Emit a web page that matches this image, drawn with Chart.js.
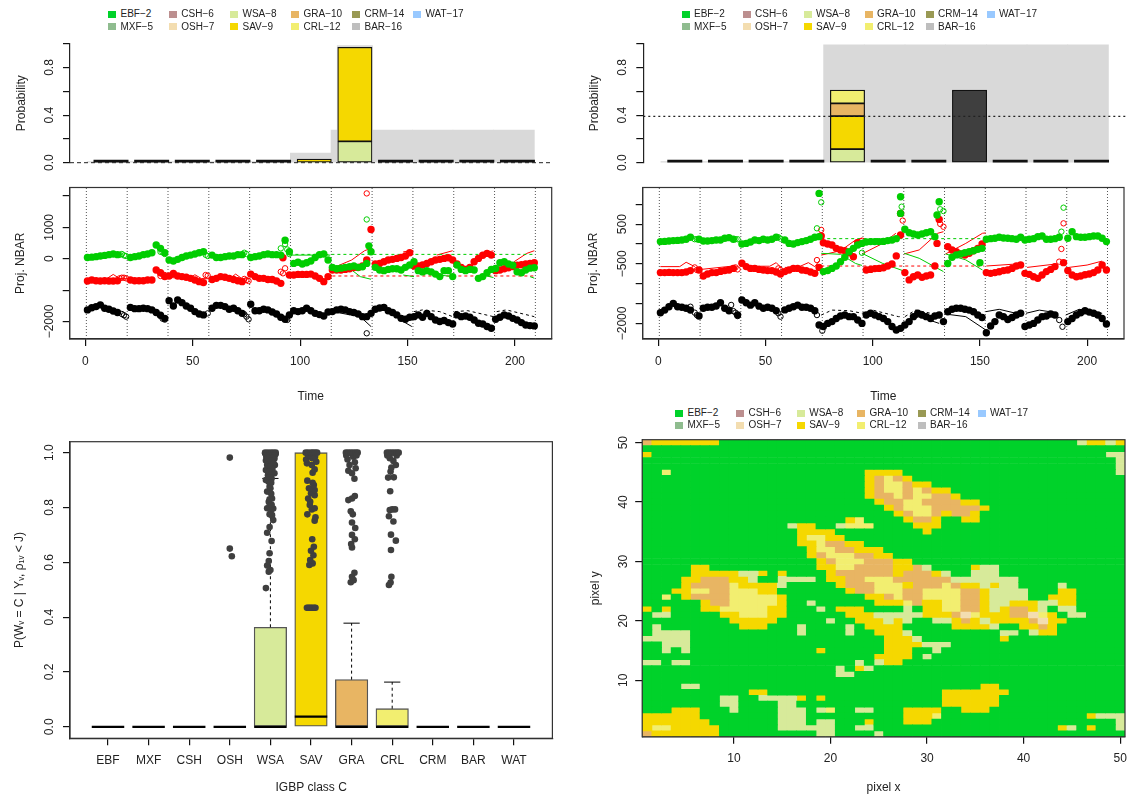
<!DOCTYPE html>
<html lang="en">
<head>
<meta charset="UTF-8">
<title>Land cover change posterior</title>
<script src="https://cdn.jsdelivr.net/npm/chart.js"></script>
<style>
  html, body { margin: 0; padding: 0; background: #fff; }
  #page { position: relative; width: 1129px; height: 797px; overflow: hidden; font-family: "Liberation Sans", Arial, sans-serif; }
  canvas { position: absolute; }
  .key { position: absolute; font-size: 10px; color: #222; line-height: 12px; white-space: nowrap; }
  .key i { position: absolute; left: -12.5px; top: 2.5px; width: 8px; height: 7px; }
</style>
</head>
<body>
<div id="page"></div>
<script>
// class legend
const legendLabels = ['EBF−2','MXF−5','CSH−6','OSH−7','WSA−8','SAV−9','GRA−10','CRL−12','CRM−14','BAR−16','WAT−17'];
const legendColors = ['#00D22A','#8FBC8F','#BC8F8F','#F3DDB0','#D7EA9A','#F5D800','#E8B563','#F2EE70','#999954','#BEBEBE','#99C9FF'];
const classShort = ['EBF','MXF','CSH','OSH','WSA','SAV','GRA','CRL','CRM','BAR','WAT'];

// top panels: posterior stacks, one value per class column
const columns = [1,2,3,4,5,6,7,8,9,10,11];
const leftGray  = [0,0,0,0,0,0.08,0.275,0.275,0.275,0.275,0.275];
const leftWsa   = [0,0,0,0,0,0.004,0.18,0,0,0,0];
const leftSav   = [0,0,0,0,0,0.026,0.79,0,0,0,0];
const rightGray = [0,0,0,0,0.99,0.99,0.99,0.99,0.99,0.99,0.99];
const rightWsa  = [0,0,0,0,0.115,0,0,0,0,0,0];
const rightSav  = [0,0,0,0,0.277,0,0,0,0,0,0];
const rightGra  = [0,0,0,0,0.106,0,0,0,0,0,0];
const rightCrl  = [0,0,0,0,0.112,0,0,0,0,0,0];
const rightBar  = [0,0,0,0,0,0,0,0.61,0,0,0];
const probTicks = [0,0.2,0.4,0.6,0.8,1];
const probLabels = ['0.0','','0.4','','0.8',''];

// middle panels
const changeTimes = [0.5,19.5,38.5,57.5,76.5,95.5,114.5,133.5,152.5,171.5,190.5,209.5];
const timeTicks = [0,50,100,150,200];
const timeLabels = ['0','50','100','150','200'];
const leftYTicks = [-2000,-1000,0,1000,2000];
const leftYLabels = ['−2000','','0','1000',''];
const rightYTicks = [-2000,-1500,-1000,-500,0,500,1000];
const rightYLabels = ['−2000','','','−500','','500',''];
const timeSteps = [1,3,5,7,9,11,13,15,17,19,
  21,23,25,27,29,31,33,35,37,39,
  41,43,45,47,49,51,53,55,57,59,
  61,63,65,67,69,71,73,75,77,79,
  81,83,85,87,89,91,93,95,97,99,
  101,103,105,107,109,111,113,115,117,119,
  121,123,125,127,129,131,133,135,137,139,
  141,143,145,147,149,151,153,155,157,159,
  161,163,165,167,169,171,173,175,177,179,
  181,183,185,187,189,191,193,195,197,199,
  201,203,205,207,209];

const leftBlack = [-1630,-1560,-1525,-1470,-1580,-1610,-1665,-1715,null,null,
  -1550,-1590,-1590,-1580,-1590,-1630,-1715,-1800,-1900,-1335,
  -1505,-1315,-1400,-1505,-1580,-1685,-1760,-1790,null,-1580,
  -1485,-1485,-1525,-1610,-1580,-1655,-1740,null,-1450,-1655,
  -1655,-1610,-1630,-1695,-1760,-1865,-1930,-1790,-1655,-1685,
  -1655,-1580,-1655,-1740,-1780,-1825,-1695,-1685,-1630,-1610,
  -1630,-1685,-1715,-1760,-1845,-1845,-1740,-1610,-1570,-1550,
  -1655,-1715,-1790,-1900,-1930,-1865,-1845,-1790,-1865,-1740,
  -1845,-1950,-2000,-1970,-2035,-2080,-1790,-1845,-1825,-1865,
  -1950,-2055,-2080,-2160,-2215,-1930,-1865,-1790,-1825,-1900,
  -1950,-2035,-2110,-2130,-2140];
const leftRed = [-710,-680,-700,-710,-700,-710,-710,-700,null,null,
  -680,-700,-700,-700,-680,-680,-360,-445,-570,-550,
  -470,-550,-570,-590,-625,-680,-730,-760,null,-660,
  -625,-570,-590,-625,-660,-700,-730,null,-490,-570,
  -625,-625,-660,-660,-710,-785,null,-520,-520,-500,
  -500,-500,-490,-550,-625,-730,-570,-360,-360,-360,
  -340,-320,-280,-280,-230,-40,930,-170,-150,-95,
  -40,-20,10,40,85,190,-230,-230,-200,-150,
  -95,-40,-20,10,30,-40,-170,-280,-340,-280,
  -95,10,110,170,115,-380,-360,-320,-290,-250,
  -210,-190,-170,-150,-130];
const leftGreen = [40,50,65,85,105,130,150,130,null,null,
  40,65,85,130,150,190,435,330,190,-40,
  -75,-20,40,85,115,150,190,220,null,115,
  40,40,65,85,85,130,130,null,40,65,
  85,130,150,130,130,115,590,220,-150,-115,
  -170,-130,-75,40,130,150,-40,-275,-320,-300,
  -275,-255,-230,-275,-255,-150,220,-275,-360,-380,
  -340,-320,-320,-360,-275,-200,-95,-380,-420,-380,
  -420,-490,-570,-380,-380,-570,-200,-340,-380,-340,
  -360,-625,-570,-445,-340,-310,-130,-95,-170,-210,
  -415,-445,-360,-300,-290];
const leftRedSpikeT = [92];
const leftRedSpikeV = [30];
const leftGreenSpikeT = [132];
const leftGreenSpikeV = [410];

const leftBlackOpenT = [17,18,19,36,37,57,74,75,76,94,131];
const leftBlackOpenV = [-1760,-1800,-1845,-1910,-1940,-1740,-1770,-1845,-1930,-1950,-2375];
const leftRedOpenT = [16,17,18,19,35,36,37,56,57,74,75,76,91,92,93,131];
const leftRedOpenV = [-625,-605,-605,-625,-550,-500,-520,-520,-540,-645,-680,-710,-415,-465,-305,2080];
const leftGreenOpenT = [16,17,18,19,35,36,37,56,57,74,75,91,93,94,95,131];
const leftGreenOpenV = [125,150,105,85,220,200,150,125,85,190,150,330,465,295,150,1250];

const leftRedLineT = [1,10,13,16,19,null,21,30,null,38,48,51,54,57,null,59,67,70,73,76,null,79,90,null,115,124,130,133,null,148,152.7,null,163.6,171,null,186,190,null,199.6,205.5,209];
const leftRedLineV = [-635,-635,-500,-635,-635,null,-650,-640,null,-590,-640,-510,-630,-640,null,-640,-640,-490,-640,-640,null,-630,-680,null,-300,-40,255,330,null,220,255,null,115,255,null,200,250,null,-95,170,255];
const leftGreenLineT = [95,114,null,114,124,128,133,null,148,153,null,165,171,null,185,190,null,207,209];
const leftGreenLineV = [115,115,null,-230,-360,-570,-655,null,-520,-570,null,-520,-570,null,-520,-600,null,-570,-620];
const leftBlackLineT = [115,128,133,null,148,152];
const leftBlackLineV = [-1685,-1845,-2160,null,-2000,-2160];
const leftBlackDashT = [153,157,165,171,null,172,178,190,null,191.5,196,209];
const leftBlackDashV = [-1685,-1630,-1685,-1845,null,-1685,-1655,-1845,null,-1685,-1630,-1845];
const leftRedDashT = [115,209];
const leftRedDashV = [-550,-550];
const leftGreenDashT = [95,209];
const leftGreenDashV = [138,138];

const rightBlack = [-1730,-1665,-1580,-1495,-1580,-1595,-1620,-1665,null,-1815,
  -1620,-1595,-1595,-1560,-1480,-1620,-1680,null,-1790,-1410,
  -1480,-1540,-1480,-1565,-1620,-1595,-1620,-1680,null,-1660,
  -1620,-1580,-1540,-1595,-1595,-1620,-1680,-2040,-2080,-2000,
  -1955,-1875,-1815,-1790,-1830,-1830,-1915,-2000,-1790,-1745,
  -1790,-1830,-1875,-1955,-2080,-2165,-2125,-2040,-1955,-1830,
  -1745,-1790,-1830,-1875,-1815,-1790,-1955,-1705,-1645,-1620,
  -1620,-1645,-1665,-1705,-1790,-1850,-2235,-2065,-1955,-1790,
  -1830,-1900,-1850,-1790,-1745,-2080,-2040,-2000,-1915,-1830,
  -1815,-1765,-1790,null,null,-1955,-1875,-1790,-1730,-1680,
  -1715,-1745,-1790,-1875,-2015];
const rightRed = [-720,-720,-715,-720,-720,-720,-705,-670,null,-655,
  -805,-755,-720,-720,-690,-670,-655,-615,null,-485,
  -570,-615,-615,-640,-655,-670,-670,-705,-755,-695,
  -655,-615,-615,-655,-670,-705,-740,-590,30,0,
  -25,-110,-150,-170,-220,-320,35,null,-655,-640,
  -620,-615,-600,-555,-505,-300,225,-720,-905,-825,
  -780,-840,-805,-780,-555,620,null,-65,-150,-195,
  -250,-280,-235,-170,-110,0,-720,-740,-720,-700,
  -670,-655,-615,-555,-530,-740,-765,-825,-865,-780,
  -695,-640,-570,null,-470,-670,-780,-825,-805,-775,
  -755,-720,-655,-530,-655];
const rightGreen = [60,65,75,85,90,100,120,170,null,120,
  75,75,85,100,100,145,160,120,null,0,
  15,50,100,85,120,100,120,170,null,100,
  15,0,35,60,85,120,170,185,-695,-670,
  -615,-555,-445,-335,-195,-110,-25,15,50,60,
  60,60,65,85,100,135,770,370,285,250,
  225,250,285,310,185,1065,null,-490,-335,-275,
  -250,-220,-195,-170,-135,-110,120,135,145,170,
  150,145,135,120,170,100,120,135,185,200,
  120,120,135,170,null,145,310,185,170,170,
  185,200,200,145,60];
const rightRedSpikeT = [76,113,130];
const rightRedSpikeV = [200,770,15];
const rightGreenSpikeT = [75,113,130,150];
const rightGreenSpikeV = [1275,1190,730,-470];

const rightBlackOpenT = [15,17,18,34,35,36,37,56,57,74,76.5,187,188.5];
const rightBlackOpenV = [-1580,-1730,-1790,-1535,-1690,-1730,-1815,-1745,-1830,-1790,-2185,-1915,-2085];
const rightRedOpenT = [17,18,36,37,56,57,74,76,95,114,131.5,133,187,188,189];
const rightRedOpenV = [-590,-655,-590,-640,-615,-655,-405,355,85,590,505,435,-445,-125,520];
const rightGreenOpenT = [17,18,36,37,56,57,74,76,95,113.5,131.5,133,188,189];
const rightGreenOpenV = [120,120,120,120,170,135,395,1050,-220,940,875,830,310,915];

const rightRedLineT = [1,10,13,17,null,20,34,null,38,43,52,55,57,null,59,65,70,73,75,null,76,85,92,95,null,95,104.7,110.8,null,114.7,121.7,130.3,133,null,134,143.4,151.2,152.7,null,153,168,null,172,186,null,190,200,207];
const rightRedLineV = [-570,-570,-460,-570,null,-640,-560,null,-470,-560,-560,-470,-580,null,-590,-590,-470,-570,-430,null,-280,-170,100,140,null,-250,15,270,null,-250,-150,270,310,null,-250,15,270,280,null,-555,-500,null,-590,-500,null,-600,-530,-430];
const rightGreenLineT = [76,85,92,95,null,95,104.7,114,null,114.7,121.7,133,null,134,143.4,151.2];
const rightGreenLineV = [-235,-260,-490,-540,null,-235,-490,-670,null,-235,-360,-695,null,-250,-400,-655];
const rightBlackLineT = [115.5,121.7,131,null,134,143.4,152.7,null,152.7,159,166.8,null,171.5,177.7,185.4,null,190,196.3,207];
const rightBlackLineV = [-1955,-1830,-2000,null,-1765,-1830,-2165,null,-1705,-1645,-1745,null,-1745,-1665,-1730,null,-1790,-1645,-1745];
const rightBlackDashT = [76,81,89,95,null,95,100,112,114,null,115,120,131,133];
const rightBlackDashV = [-1790,-1665,-1680,-1745,null,-1745,-1665,-1830,-1830,null,-1830,-1665,-1790,-1790];
const rightRedDashT = [76,152];
const rightRedDashV = [-555,-555];
const rightGreenDashT = [76,152];
const rightGreenDashV = [135,135];

// box plot
const boxQ3 = [0,0,0,0,0.363,1,0.172,0.066,0,0,0];
const boxMedian = [0,0,0,0,0,0.037,0,0,0,0,0];
const boxWhisker = [0,0,0,0,0.906,1,0.378,0.163,0,0,0];
const boxTicks = [0,0.2,0.4,0.6,0.8,1];
const boxLabels = ['0.0','0.2','0.4','0.6','0.8','1.0'];
const oshOutY = [0.982,0.65,0.622];
const oshOutJ = [0,0,0.05];
const wsaOutY = [0.506,0.566,0.572,0.588,0.605,0.633,0.678,0.708,0.729,0.754,0.772,0.797,0.796,0.805,0.821,0.833,0.858,0.876,0.894,0.9,0.906,0.918,0.925,0.937,0.939,0.955,0.955,0.961,0.971,0.973,0.979,0.985,0.988,0.995,0.998,1,1,1,1,1,0.99,0.99,0.99,0.99,0.98,0.98,0.97,0.96,0.95,0.94,0.93,0.92,0.91,0.89,0.87,0.85,0.83,0.81,0.79,0.775];
const wsaOutJ = [-0.11,-0.04,0,-0.08,-0.04,-0.02,0.03,-0.08,-0.02,0.07,0.04,-0.08,0.07,-0.02,-0.04,0.04,-0.08,-0.02,-0.04,-0.11,0.03,-0.06,0.1,-0.11,0.01,0.11,-0.08,0.03,-0.11,-0.02,0.1,-0.1,0.03,0.13,-0.13,-0.06,0.01,0.07,0.13,-0.13,-0.1,-0.03,0.05,0.1,-0.06,0.06,0.02,0.08,0,0.05,-0.03,0.02,-0.01,0.02,0,0.02,-0.02,0.03,0.01,-0.02];
const savOutY = [0.434,0.434,0.434,0.434,0.434,0.434,0.434,0.59,0.596,0.608,0.626,0.642,0.657,0.684,0.752,0.764,0.775,0.793,0.797,0.809,0.821,0.833,0.845,0.852,0.864,0.87,0.882,0.89,0.898,0.927,0.939,0.955,0.961,0.967,0.975,0.98,0.985,0.99,0.995,1,1,1,1,1,1];
const savOutJ = [-0.1,-0.07,-0.03,0,0.04,0.08,0.11,-0.04,0.04,-0.02,0.06,0,0.07,0.03,0.09,0.11,-0.09,0.02,0.09,-0.03,-0.02,-0.07,0.09,0,0.09,-0.05,0.07,0.04,-0.09,0.04,0.09,0.02,-0.1,0.13,-0.12,0.03,0.1,-0.07,0.05,-0.13,-0.07,0,0.05,0.1,0.15];
const graOutY = [0.527,0.535,0.547,0.562,0.654,0.667,0.684,0.7,0.725,0.745,0.775,0.786,0.827,0.833,0.842,0.905,0.925,0.934,0.943,0.955,0.965,0.975,0.985,0.99,1,1,1,1,1,1,0.99];
const graOutJ = [-0.02,0.05,0.01,0.07,0.01,-0.01,0.08,0.01,0.09,0.01,0.03,-0.02,-0.08,0.01,0.08,0.07,0.01,-0.08,0.1,-0.05,0.08,-0.1,0.04,-0.13,-0.14,-0.08,-0.02,0.04,0.1,0.15,0.12];
const crlOutY = [0.517,0.526,0.547,0.645,0.679,0.701,0.749,0.768,0.791,0.793,0.793,0.859,0.909,0.91,0.931,0.946,0.955,0.97,0.98,0.99,0.99,1,1,1,1,1,1];
const crlOutJ = [-0.08,-0.04,-0.02,-0.03,0.09,-0.03,0.03,-0.08,-0.06,0,0.07,-0.05,-0.1,0.04,-0.04,-0.02,0.09,0.03,-0.06,0.11,-0.12,-0.13,-0.07,-0.01,0.05,0.11,0.16];

// land cover map, top row is y = 50; . EBF, w WSA, s SAV, g GRA, c CRL
const mapCodes = { '.': 0, o: 3, w: 4, s: 5, g: 6, c: 7 };
const mapTicks = [10,20,30,40,50];
const mapLabels = ['10','20','30','40','50'];
const mapRows = [
  'gsssssss.. .......... .......... .......... .....wssws',
  '.......... .......... .......... .......... ..........',
  's......... .......... .......... .......... ........ww',
  '.......... .......... .......... .......... .........w',
  '.......... .......... .......... .......... .........w',
  '..c....... .......... ...ssss... .......... .........w',
  '.......... .......... ...sgcgs.. .......... ..........',
  '.......... .......... ...sgccgss .......... ..........',
  '.......... .......... ...sgccgcg ss........ ..........',
  '.......... .......... ...sggcgcc ggs....... ..........',
  '.......... .......... ....sggccg gggss..... ..........',
  '.......... .......... .....sgccc gggggs.... ..........',
  '.......... .......... ......sgcc gsggs..... ..........',
  '.......... .......... .sc....sgg s..ss..... ..........',
  '.......... .....wss.. wccc....ss s......... ..........',
  '.......... ......ssss .........s .......... ..........',
  '.......... ......sccs s......... .......... ..........',
  '.......... ......sscg gss....... .......... ..........',
  '.......... .......scc ggsss..... .......... ..........',
  '.......... .......sgc ccggss.... .......... ..........',
  '.......... ........sg cccgggss.. .......... ..........',
  '.....ss... ........ss ccggggssgw ....sww... ..........',
  '.....sssss wws.s....s ggggggsggg sw..www... ..........',
  '....ssgggs sw..wwww.s sggcccgggg ggwwwwwww. ..........',
  '....sggggc ssssw..... sgggcccsgg gcgsswsww. ...w......',
  '...ssccggc ccss...... .sggcccggc cccggswwww ...ss.....',
  '..c.sggggc ccccs..... ...ssgcggc cccggswwww ..sss.....',
  '......sggc ccccs..w.. ....ssscgs sccggswwss swwss.....',
  's.s...sscc cccss...w. sss....w.s sccggswsgg sw.ww.....',
  '.ww.....ss cccss..... .ssswwwwws ssgocsssgg ocs.ww....',
  '.........s ssss.....w ..ssswsw.. wwsgswssss goss......',
  '.w........ sss...w... .w.ssss... ..ssssw..s sgs.......',
  '.wwww..... ......w... .w..sssw.. .......ww. wss.......',
  'wwwww..... .......... .....sssw. .......s.. ..........',
  '..www..... .......... .....ssssw ww........ ..........',
  '..w.w..... ........s. .....sss.. w......... ..........',
  '.......... .......... ....ssss.w .......... ..........',
  'ww.ww..... .......... ..w.wss... .......... ..........',
  '.......... .......... w.sw...... .......... ..........',
  '.......... .......... ww........ .......... ..........',
  '.......... .......... .......... .......... ..........',
  '....ww.... .......... .......... .....ss... ..........',
  '.......... .ss....... .......... .sssssss.. ..........',
  '........ww ..wwwws.s. .......... .ssssss... ..........',
  '........ww ....ww.... .......... .ssssss... ..........',
  '...sss...w ....www.wc ..ww...sss s..sss.... ..........',
  'ssssss.... ....www... .......sss c......... ......swww',
  'sssssss... ....www.ww ...s...sss .......... .........w',
  'sccsssss.. ....wwwwww ..ww...... .......... ...sw.s..w',
  'gsssssss.. ........ww ....w..... .......... ..........'
];

Chart.defaults.font.family = '"Liberation Sans", Arial, sans-serif';
Chart.defaults.font.size = 12;
Chart.defaults.color = '#222';
Chart.defaults.animation = false;

const page = document.getElementById('page');

function addCanvas(x, y, w, h) {
  const c = document.createElement('canvas');
  c.width = w; c.height = h;
  c.style.left = x + 'px'; c.style.top = y + 'px';
  page.appendChild(c);
  return c;
}

function addLegend(xs, ys) {
  legendLabels.forEach((label, i) => {
    const d = document.createElement('div');
    d.className = 'key';
    d.style.left = (xs[Math.floor(i / 2)] + 12.5) + 'px';
    d.style.top = (ys[i % 2] - 6) + 'px';
    d.innerHTML = '<i style="background:' + legendColors[i] + '"></i>' + label;
    page.appendChild(d);
  });
}

// R style axis on a linear scale
function axis(o) {
  const vertical = o.position === 'left';
  return {
    type: 'linear', position: o.position, min: o.min, max: o.max, offset: false,
    afterBuildTicks: s => { s.ticks = o.ticks.map(v => ({ value: v })); },
    afterFit: s => {
      if (vertical) s.width = o.size; else s.height = o.size;
      s.paddingLeft = s.paddingRight = s.paddingTop = s.paddingBottom = 0;
    },
    grid: { offset: false, drawOnChartArea: false, drawTicks: true, tickLength: 7, color: '#111', lineWidth: 1.2 },
    border: { display: true, color: '#222', width: 1.2 },
    ticks: {
      autoSkip: false, padding: o.padding, color: '#222', font: { size: 12 },
      callback: (v, i) => o.labels[i],
      minRotation: vertical ? 90 : 0, maxRotation: vertical ? 90 : 0,
      crossAlign: vertical ? 'center' : 'near'
    },
    title: {
      display: true, text: o.title, color: '#222', font: { size: 12 },
      padding: vertical ? { top: o.titleGap, bottom: 0 } : { top: 0, bottom: o.titleGap }
    }
  };
}

const frame = {
  id: 'frame',
  afterDraw(chart) {
    const a = chart.chartArea, ctx = chart.ctx;
    ctx.save();
    ctx.strokeStyle = '#333'; ctx.lineWidth = 1.2;
    ctx.strokeRect(a.left, a.top, a.right - a.left, a.bottom - a.top);
    ctx.restore();
  }
};

function segments(t, v) {
  return t.map((x, i) => ({ x: x === null ? t[i - 1] : x, y: v[i] }));
}
function points(t, v) {
  const out = [];
  t.forEach((x, i) => { if (v[i] !== null) out.push({ x: x, y: v[i] }); });
  return out;
}

// top stacked probability panels
function stackPanel(o) {
  const datasets = [];
  const base = columns.map(() => 0);
  o.stack.forEach(s => {
    datasets.push({
      type: 'bar', grouped: false, barThickness: o.barWidth, order: 5, clip: false,
      backgroundColor: s.color, borderColor: '#111', borderWidth: 1.2, borderSkipped: false,
      data: columns.map((c, i) => ({ x: c, y: [base[i], base[i] + s.values[i]] })).filter(d => d.y[1] > d.y[0])
    });
    s.values.forEach((v, i) => { base[i] += v; });
  });
  datasets.push({
    type: 'bar', grouped: false, barThickness: o.barWidth, order: 4, clip: false,
    backgroundColor: '#111', minBarLength: 2.5,
    data: columns.filter((c, i) => base[i] === 0).map(c => ({ x: c, y: 0 }))
  });
  datasets.push({
    type: 'bar', grouped: false, barThickness: o.barWidth + 6.5, order: 9, clip: false,
    backgroundColor: '#D9D9D9', minBarLength: 1,
    data: columns.map((c, i) => ({ x: c - 0.086, y: o.gray[i] }))
  });
  if (o.topBand) datasets.push({
    type: 'bar', grouped: false, barThickness: o.barWidth + 1, order: 8, clip: false,
    backgroundColor: '#D9D9D9',
    data: [{ x: o.topBand.x, y: o.topBand.y }]
  });
  datasets.push({
    type: 'line', order: 1, clip: false, pointRadius: 0,
    borderColor: '#222', borderWidth: o.refWidth, borderDash: o.refDash,
    data: [{ x: o.xMin, y: o.ref }, { x: o.xMax, y: o.ref }]
  });
  new Chart(addCanvas(o.left, 30, o.width, 150), {
    type: 'bar',
    data: { datasets: datasets },
    options: {
      responsive: false,
      layout: { padding: { top: 13.7, bottom: 17.3, right: o.rightPad, left: 0 } },
      plugins: { legend: { display: false }, tooltip: { enabled: false } },
      scales: {
        x: { type: 'linear', display: false, offset: false, grid: { offset: false }, min: o.xMin, max: o.xMax },
        y: axis({ position: 'left', min: 0, max: 1, ticks: probTicks, labels: probLabels, size: o.axisSize, padding: o.tickPad, title: 'Probability', titleGap: o.titleGap })
      }
    }
  });
}

stackPanel({
  left: 0, width: 565, rightPad: 13, axisSize: 70, titleGap: 14, barWidth: 34.3, tickPad: 4.7,
  xMin: -0.009, xMax: 11.85, gray: leftGray, ref: 0, refDash: [4, 3], refWidth: 1,
  topBand: { x: 7, y: 0.985 },
  stack: [{ color: legendColors[4], values: leftWsa }, { color: legendColors[5], values: leftSav }]
});
stackPanel({
  left: 570, width: 559, rightPad: 3.7, axisSize: 73.3, titleGap: 17, barWidth: 34.3, tickPad: 5.2,
  xMin: -0.02, xMax: 11.83, gray: rightGray, ref: 0.39, refDash: [2, 3], refWidth: 1.2,
  stack: [
    { color: legendColors[4], values: rightWsa }, { color: legendColors[5], values: rightSav },
    { color: legendColors[6], values: rightGra }, { color: legendColors[7], values: rightCrl },
    { color: '#3F3F3F', values: rightBar }
  ]
});

// time series panels
function seriesPanel(o) {
  const dotted = [];
  changeTimes.forEach(t => { dotted.push({ x: t, y: o.yMin }, { x: t, y: o.yMax }, { x: t, y: null }); });
  const line = (t, v, color, dash, order) => ({
    showLine: true, pointRadius: 0, borderColor: color, borderWidth: 1, borderDash: dash || [], order: order,
    data: segments(t, v)
  });
  const filled = (data, color, order) => ({ pointRadius: 3.7, pointBackgroundColor: color, pointBorderWidth: 0, order: order, data: data });
  const open = (data, color, order) => ({ pointRadius: 2.7, pointBackgroundColor: 'rgba(0,0,0,0)', pointBorderColor: color, pointBorderWidth: 1, order: order, data: data });
  new Chart(addCanvas(o.left, 180, o.width, 224), {
    type: 'scatter',
    data: { datasets: [
      { showLine: true, pointRadius: 0, borderColor: '#555', borderWidth: 1, borderDash: [1, 2], order: 20, data: dotted },
      line(o.blackLine[0], o.blackLine[1], '#000', [], 12),
      line(o.blackDash[0], o.blackDash[1], '#000', [3, 3], 12),
      line(o.redLine[0], o.redLine[1], '#FF0000', [], 11),
      line(o.redDash[0], o.redDash[1], '#FF0000', [3, 3], 11),
      line(o.greenLine[0], o.greenLine[1], '#00CD00', [], 10),
      line(o.greenDash[0], o.greenDash[1], '#00CD00', [3, 3], 10),
      open(points(o.blackOpen[0], o.blackOpen[1]), '#000', 8),
      filled(points(timeSteps, o.black), '#000', 7),
      open(points(o.redOpen[0], o.redOpen[1]), '#FF0000', 6),
      filled(points(timeSteps, o.red).concat(points(o.redSpike[0], o.redSpike[1])), '#FF0000', 5),
      open(points(o.greenOpen[0], o.greenOpen[1]), '#00CD00', 4),
      filled(points(timeSteps, o.green).concat(points(o.greenSpike[0], o.greenSpike[1])), '#00CD00', 3)
    ] },
    options: {
      responsive: false,
      layout: { padding: { top: 7.5, right: o.rightPad, left: 0, bottom: 0 } },
      plugins: { legend: { display: false }, tooltip: { enabled: false } },
      scales: {
        x: axis({ position: 'bottom', min: o.xMin, max: o.xMax, ticks: timeTicks, labels: timeLabels, size: 65, padding: 8, title: 'Time', titleGap: 0 }),
        y: axis({ position: 'left', min: o.yMin, max: o.yMax, ticks: o.yTicks, labels: o.yLabels, size: o.axisSize, padding: o.tickPad, title: 'Proj. NBAR', titleGap: o.titleGap })
      }
    },
    plugins: [frame]
  });
}

seriesPanel({
  left: 0, width: 565, rightPad: 13.3, axisSize: 69.7, titleGap: 13.5, tickPad: -3.9,
  xMin: -7.26, xMax: 217.1, yMin: -2557, yMax: 2268, yTicks: leftYTicks, yLabels: leftYLabels,
  black: leftBlack, red: leftRed, green: leftGreen,
  redSpike: [leftRedSpikeT, leftRedSpikeV], greenSpike: [leftGreenSpikeT, leftGreenSpikeV],
  blackOpen: [leftBlackOpenT, leftBlackOpenV], redOpen: [leftRedOpenT, leftRedOpenV], greenOpen: [leftGreenOpenT, leftGreenOpenV],
  blackLine: [leftBlackLineT, leftBlackLineV], redLine: [leftRedLineT, leftRedLineV], greenLine: [leftGreenLineT, leftGreenLineV],
  blackDash: [leftBlackDashT, leftBlackDashV], redDash: [leftRedDashT, leftRedDashV], greenDash: [leftGreenDashT, leftGreenDashV]
});
seriesPanel({
  left: 570, width: 559, rightPad: 3.7, axisSize: 72.7, titleGap: 16.5, tickPad: -3.4,
  xMin: -7.26, xMax: 217.2, yMin: -2393, yMax: 1423, yTicks: rightYTicks, yLabels: rightYLabels,
  black: rightBlack, red: rightRed, green: rightGreen,
  redSpike: [rightRedSpikeT, rightRedSpikeV], greenSpike: [rightGreenSpikeT, rightGreenSpikeV],
  blackOpen: [rightBlackOpenT, rightBlackOpenV], redOpen: [rightRedOpenT, rightRedOpenV], greenOpen: [rightGreenOpenT, rightGreenOpenV],
  blackLine: [rightBlackLineT, rightBlackLineV], redLine: [rightRedLineT, rightRedLineV], greenLine: [rightGreenLineT, rightGreenLineV],
  blackDash: [rightBlackDashT, rightBlackDashV], redDash: [rightRedDashT, rightRedDashV], greenDash: [rightGreenDashT, rightGreenDashV]
});

// box plot panel
const whiskers = [], caps = [], medians = [];
columns.forEach((c, i) => {
  medians.push({ x: c - 0.4, y: boxMedian[i] }, { x: c + 0.4, y: boxMedian[i] }, { x: c, y: null });
  if (boxWhisker[i] > boxQ3[i]) {
    whiskers.push({ x: c, y: boxQ3[i] }, { x: c, y: boxWhisker[i] }, { x: c, y: null });
    caps.push({ x: c - 0.2, y: boxWhisker[i] }, { x: c + 0.2, y: boxWhisker[i] }, { x: c, y: null });
  }
});
const outliers = [[4, oshOutY, oshOutJ], [5, wsaOutY, wsaOutJ], [6, savOutY, savOutJ], [7, graOutY, graOutJ], [8, crlOutY, crlOutJ]]
  .flatMap(([c, ys, js]) => ys.map((y, i) => ({ x: c + js[i], y: y })));

new Chart(addCanvas(0, 430, 565, 367), {
  type: 'bar',
  data: { datasets: [
    { type: 'scatter', order: 1, pointRadius: 3.3, pointBackgroundColor: '#3F3F3F', pointBorderWidth: 0, data: outliers },
    { type: 'line', order: 2, pointRadius: 0, borderColor: '#000', borderWidth: 2.2, data: medians },
    { type: 'line', order: 3, pointRadius: 0, borderColor: '#000', borderWidth: 1, borderDash: [3, 3], data: whiskers },
    { type: 'line', order: 3, pointRadius: 0, borderColor: '#000', borderWidth: 1, data: caps },
    {
      type: 'bar', order: 5, grouped: false, barThickness: 32.5, clip: false,
      backgroundColor: columns.filter((c, i) => boxQ3[i] > 0).map(c => legendColors[c - 1]),
      borderColor: '#555', borderWidth: 1.3, borderSkipped: false,
      data: columns.filter((c, i) => boxQ3[i] > 0).map(c => ({ x: c, y: [0, boxQ3[c - 1]] }))
    }
  ] },
  options: {
    responsive: false,
    layout: { padding: { top: 11.7, right: 12.6, left: 0, bottom: 0 } },
    plugins: { legend: { display: false }, tooltip: { enabled: false } },
    scales: {
      x: axis({ position: 'bottom', min: 0.064, max: 11.946, ticks: columns, labels: classShort, size: 58.7, padding: 8, title: 'IGBP class C', titleGap: 2.1 }),
      y: axis({ position: 'left', min: -0.042, max: 1.04, ticks: boxTicks, labels: boxLabels, size: 70, padding: 4.7, title: 'P(Wᵥ = C | Yᵥ, ρ₁ᵥ < J)', titleGap: 12.8 })
    }
  },
  plugins: [frame]
});

// land cover map panel
const mapCells = legendLabels.map(() => []);
mapRows.forEach((row, r) => {
  row.replace(/ /g, '').split('').forEach((ch, c) => {
    const y = 50 - r;
    mapCells[mapCodes[ch]].push({ x: c + 1, y: [y - 0.5, y + 0.5] });
  });
});
new Chart(addCanvas(570, 430, 559, 367), {
  type: 'bar',
  data: { datasets: mapCells.map((cells, i) => ({
    grouped: false, barThickness: 9.8, backgroundColor: legendColors[i], borderWidth: 0, data: cells
  })) },
  options: {
    responsive: false,
    layout: { padding: { top: 9.7, right: 4, left: 0, bottom: 0 } },
    plugins: { legend: { display: false }, tooltip: { enabled: false } },
    scales: {
      x: axis({ position: 'bottom', min: 0.5, max: 50.5, ticks: mapTicks, labels: mapLabels, size: 60.2, padding: 8, title: 'pixel x', titleGap: 2.5 }),
      y: axis({ position: 'left', min: 0.5, max: 50.5, ticks: mapTicks, labels: mapLabels, size: 72.2, padding: 4.8, title: 'pixel y', titleGap: 18.8 })
    }
  },
  plugins: [frame]
});

addLegend([108, 168.8, 230, 291, 352, 413], [14.3, 26.7]);
addLegend([681.5, 742.5, 803.5, 864.5, 925.5, 986.5], [14.3, 26.7]);
addLegend([675, 736, 796.7, 857, 917.5, 977.5], [413.3, 425.3]);
</script>
</body>
</html>
